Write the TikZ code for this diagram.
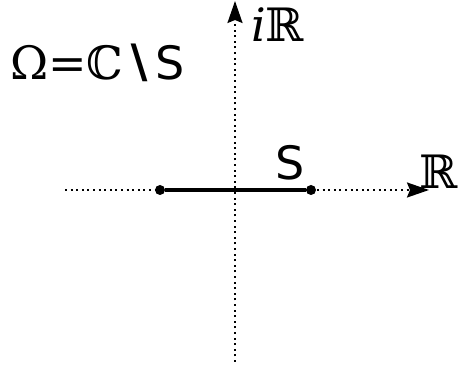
\documentclass[tikz,border=0pt]{standalone}
\usepackage{fontspec}
\setmainfont{DejaVu Sans}
\newfontfamily\serifx{DejaVu Serif}
\usetikzlibrary{arrows.meta}
\tikzset{
  axis/.style={line width=2pt, dash pattern=on 2pt off 3.6pt, -{Stealth[length=22pt,width=15pt,inset=3pt]}},
  seg/.style={line width=3.8pt},
  endpt/.style={circle, fill=black, inner sep=0pt, minimum size=10pt},
  lbl/.style={inner sep=0pt, font=\fontsize{46}{48}\selectfont}
}
\begin{document}
\begin{tikzpicture}[x=1pt,y=1pt]
\useasboundingbox (0,0) rectangle (459,369);
\coordinate (hl) at (65,179);
\coordinate (hr) at (429,179);
\coordinate (vb) at (235,7);
\coordinate (vt) at (235,368);
\draw[axis] (hl) -- (hr);
\draw[axis] (vb) -- (vt);
\node[endpt] (a) at (160,179) {};
\node[endpt] (b) at (311,179) {};
\draw[seg] (a) -- (b);
\node[lbl] (s) at (290,206) {S};
\node[lbl, anchor=east] (r) at (458,197) {\serifx ℝ};
\node[lbl, anchor=west] (ir) at (251,344) {\serifx\itshape i\upshape ℝ};
\node[lbl, anchor=west] (om) at (10,306) {\serifx Ω=ℂ\normalfont\bfseries ∖\mdseries S};
\end{tikzpicture}
\end{document}
